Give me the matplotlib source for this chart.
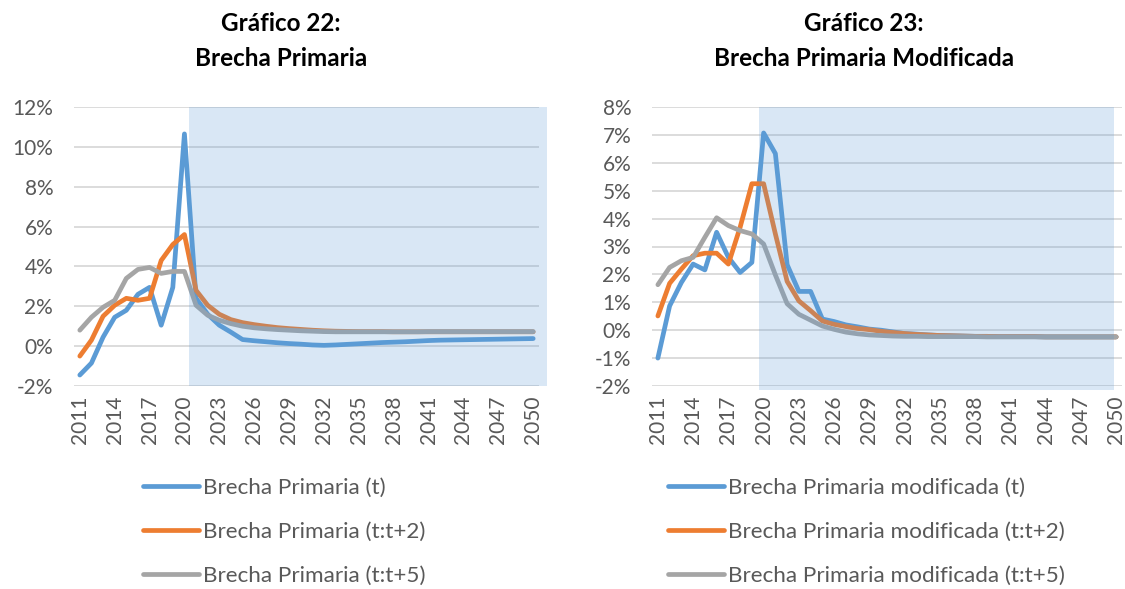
import matplotlib
matplotlib.use("Agg")
import matplotlib.pyplot as plt
from matplotlib.patches import Rectangle
from matplotlib.ticker import FuncFormatter

plt.rcParams['font.family'] = ['Lato', 'DejaVu Sans']

# Años 2011..2050
anios = list(range(2011, 2051))

# Gráfico 22: Brecha Primaria
brecha_t = [-1.45, -0.85, 0.45, 1.45, 1.8, 2.6, 2.95, 1.05, 2.95, 10.65,
            2.4, 1.6, 1.05, 0.7, 0.33, 0.27, 0.22, 0.17, 0.13, 0.1,
            0.06, 0.04, 0.06, 0.09, 0.12, 0.15, 0.18, 0.2, 0.22, 0.25,
            0.28, 0.3, 0.31, 0.32, 0.33, 0.34, 0.35, 0.36, 0.37, 0.38]
brecha_t2 = [-0.5, 0.3, 1.5, 2.05, 2.4, 2.3, 2.4, 4.3, 5.1, 5.6,
             2.8, 2.05, 1.6, 1.33, 1.18, 1.08, 1.0, 0.93, 0.88, 0.84,
             0.8, 0.77, 0.75, 0.74, 0.73, 0.73, 0.73, 0.72, 0.72, 0.72,
             0.72, 0.72, 0.72, 0.72, 0.72, 0.72, 0.72, 0.72, 0.72, 0.72]
brecha_t5 = [0.8, 1.45, 1.95, 2.3, 3.4, 3.85, 3.95, 3.65, 3.75, 3.75,
             2.05, 1.55, 1.3, 1.13, 1.0, 0.92, 0.87, 0.83, 0.8, 0.77,
             0.75, 0.73, 0.72, 0.72, 0.72, 0.72, 0.72, 0.72, 0.72, 0.72,
             0.73, 0.73, 0.73, 0.73, 0.73, 0.73, 0.73, 0.73, 0.73, 0.73]

# Gráfico 23: Brecha Primaria Modificada
mod_t = [-1.0, 0.87, 1.71, 2.37, 2.16, 3.51, 2.61, 2.07, 2.43, 7.07,
         6.33, 2.35, 1.39, 1.39, 0.4, 0.31, 0.19, 0.12, 0.04, 0.0,
         -0.06, -0.12, -0.14, -0.17, -0.19, -0.2, -0.21, -0.22, -0.22, -0.23,
         -0.23, -0.23, -0.23, -0.24, -0.24, -0.24, -0.24, -0.24, -0.24, -0.24]
mod_t2 = [0.51, 1.68, 2.19, 2.67, 2.76, 2.76, 2.37, 3.69, 5.25, 5.25,
          3.45, 1.75, 1.05, 0.7, 0.33, 0.21, 0.13, 0.06, 0.02, -0.04,
          -0.08, -0.12, -0.15, -0.17, -0.19, -0.2, -0.21, -0.22, -0.22, -0.23,
          -0.23, -0.23, -0.23, -0.24, -0.24, -0.24, -0.24, -0.24, -0.24, -0.24]
mod_t5 = [1.63, 2.25, 2.49, 2.61, 3.33, 4.03, 3.75, 3.57, 3.45, 3.09,
          1.98, 0.95, 0.57, 0.36, 0.15, 0.03, -0.07, -0.13, -0.17, -0.19,
          -0.21, -0.22, -0.22, -0.23, -0.23, -0.23, -0.23, -0.23, -0.24, -0.24,
          -0.24, -0.24, -0.24, -0.24, -0.24, -0.24, -0.24, -0.24, -0.24, -0.24]

azul = "#5B9BD5"
naranja = "#ED7D31"
gris = "#A5A5A5"
texto = "#595959"

W, H = 1125, 589
fig = plt.figure(figsize=(W / 100, H / 100), dpi=100)


def grafico(rect, series, etiquetas, ylim, ystep, sombra, titulo, xtitulo, xleyenda):
    ax = fig.add_axes([rect[0] / W, 1 - rect[3] / H, (rect[2] - rect[0]) / W, (rect[3] - rect[1]) / H])
    x = list(range(len(anios)))
    for serie, color, etiqueta in zip(series, [azul, naranja, gris], etiquetas):
        ax.plot(x, serie, color=color, lw=3.4, label=etiqueta, solid_capstyle="round",
                solid_joinstyle="round", zorder=3)

    # zona sombreada de proyección
    ax.add_patch(Rectangle((sombra[0], sombra[2]), sombra[1] - sombra[0], sombra[3] - sombra[2],
                           facecolor=azul, alpha=0.23, lw=0, zorder=4, clip_on=False))

    ax.set_xlim(-0.5, len(anios) - 0.5)
    ax.set_ylim(*ylim)
    yt = []
    v = ylim[0]
    while v <= ylim[1] + 1e-9:
        yt.append(v)
        v += ystep
    ax.set_yticks(yt)
    ax.yaxis.set_major_formatter(FuncFormatter(lambda v, p: f"{v:.0f}%"))
    ax.set_xticks(x[::3])
    ax.set_xticklabels([str(a) for a in anios[::3]], rotation=90)
    ax.grid(axis="y", color="#D9D9D9", lw=1.3, zorder=0)
    ax.set_axisbelow(True)
    for s in ax.spines.values():
        s.set_visible(False)
    ax.tick_params(length=0, labelsize=15, colors=texto)
    ax.tick_params(axis="y", pad=15)
    ax.tick_params(axis="x", pad=7)

    fig.text(xtitulo / W, 1 - 41 / H, titulo, ha="center", va="center", fontsize=17.5,
             fontweight="bold", linespacing=1.6)

    ax.legend(loc="upper left", bbox_to_anchor=(xleyenda / W, 1 - 478 / H),
              bbox_transform=fig.transFigure, frameon=False, fontsize=16.2,
              handlelength=2.5, handletextpad=0.18, labelspacing=1.07,
              borderpad=0, borderaxespad=0, labelcolor=texto)
    return ax


grafico((74, 107, 539, 386), [brecha_t, brecha_t2, brecha_t5],
        ["Brecha Primaria (t)", "Brecha Primaria (t:t+2)", "Brecha Primaria (t:t+5)"],
        (-2, 12), 2, (9.4, 40.2, -2, 12),
        "Gráfico 22:\nBrecha Primaria", 281, 143)

grafico((652, 107, 1122, 386), [mod_t, mod_t2, mod_t5],
        ["Brecha Primaria modificada (t)", "Brecha Primaria modificada (t:t+2)",
         "Brecha Primaria modificada (t:t+5)"],
        (-2, 8), 1, (8.63, 38.85, -2.15, 8),
        "Gráfico 23:\nBrecha Primaria Modificada", 864, 668)

fig.savefig("out.png", dpi=100, facecolor="white")
